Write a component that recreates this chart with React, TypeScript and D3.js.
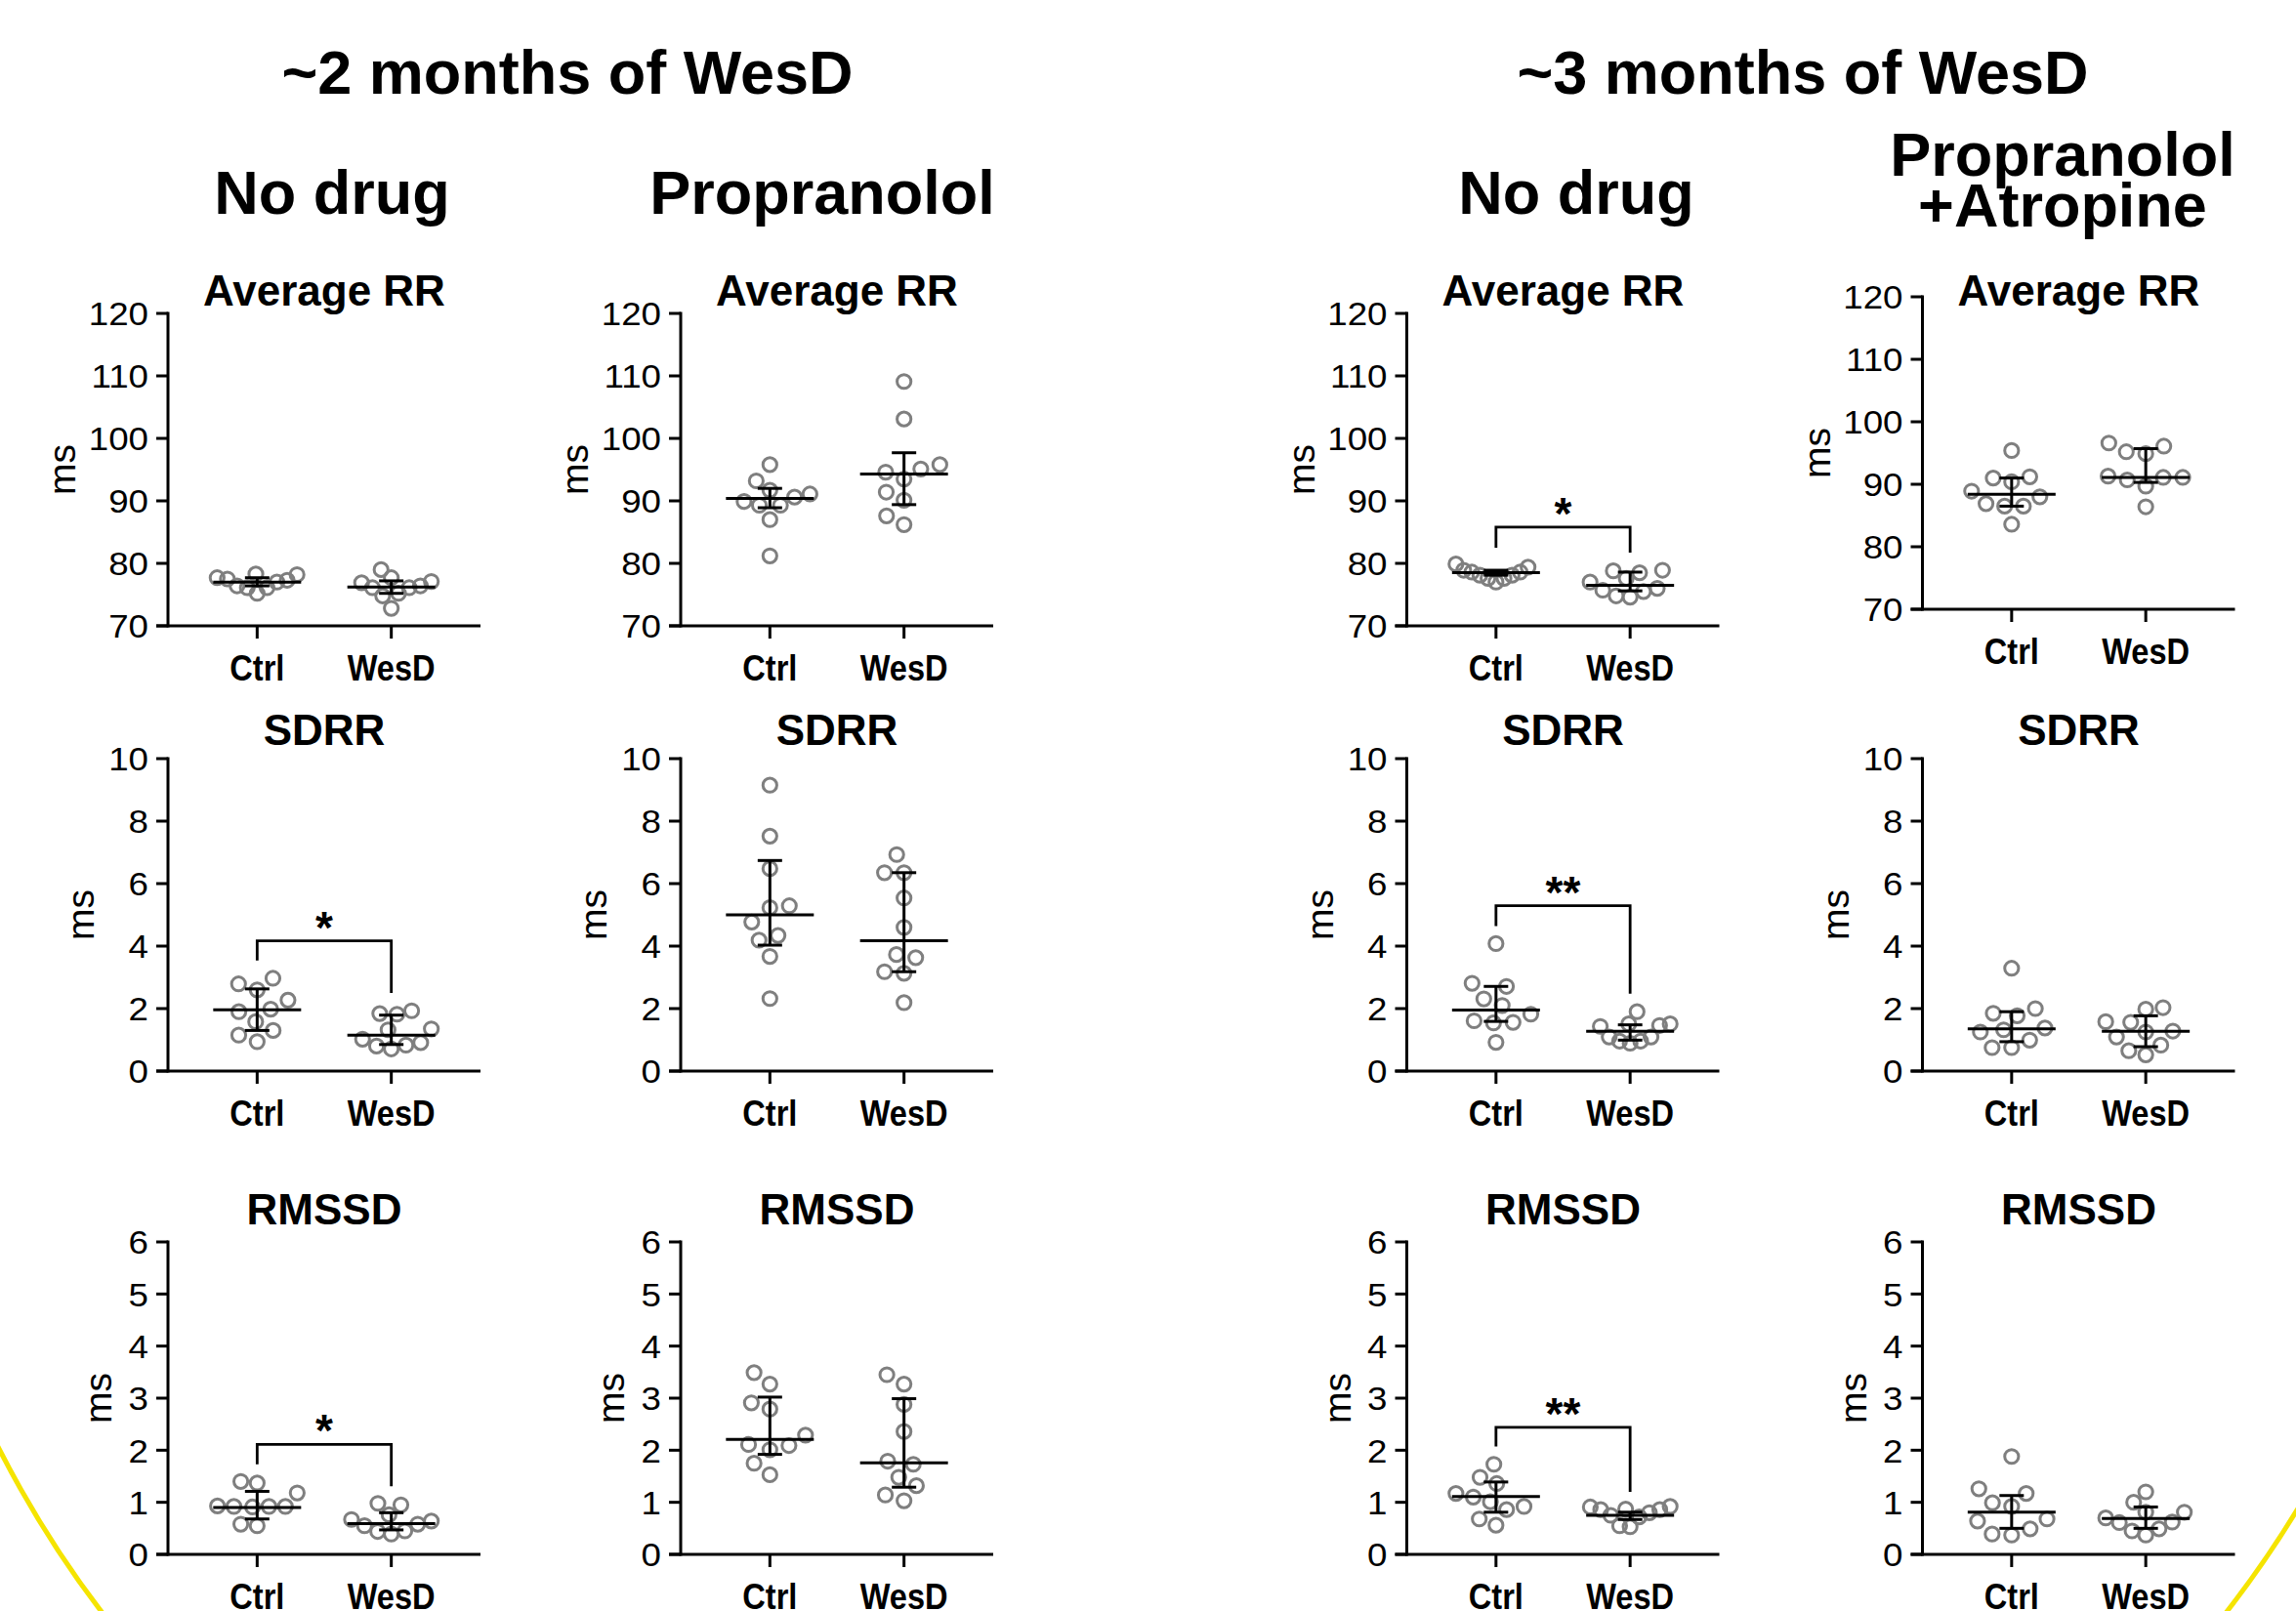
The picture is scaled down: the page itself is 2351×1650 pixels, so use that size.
import React, { useEffect } from 'react';
import * as d3 from 'd3';

// ---------- text ----------
const categories = ['Ctrl', 'WesD'];
const periodTitles = ['~2 months of WesD', '~3 months of WesD'];
const conditionTitles = [['No drug'], ['Propranolol'], ['No drug'], ['Propranolol', '+Atropine']];
const metricTitles = ['Average RR', 'SDRR', 'RMSSD'];
const yAxisLabel = 'ms';

// ---------- axes ----------
const rrTicks = [70, 80, 90, 100, 110, 120];
const sdrrTicks = [0, 2, 4, 6, 8, 10];
const rmssdTicks = [0, 1, 2, 3, 4, 5, 6];

// ---------- Average RR ----------
const rr2NoDrugCtrl = [77.5, 76.1, 78.2, 76.4, 77.0, 77.3, 77.7, 75.2, 78.3, 76.1];
const rr2NoDrugWesD = [77.1, 76.1, 76.9, 77.7, 74.8, 72.8, 79.0, 76.4, 75.2, 76.1];
const rr2NoDrugStats = [[77.0, 76.4, 77.7], [76.2, 75.2, 77.2]]; // median, q1, q3

const rr2PropCtrl = [89.9, 93.2, 91.1, 95.8, 89.3, 87.0, 81.2, 90.6, 91.7, 89.3];
const rr2PropWesD = [94.6, 109.1, 103.1, 95.8, 93.5, 90.1, 86.2, 87.6, 95.1, 91.4];
const rr2PropStats = [[90.4, 88.9, 92.0], [94.3, 89.4, 97.7]];

const rr3NoDrugCtrl = [78.1, 79.9, 78.1, 78.9, 79.4, 77.0, 78.6, 77.6, 78.6, 77.6];
const rr3NoDrugWesD = [78.8, 74.8, 78.5, 76.0, 77.6, 75.5, 78.9, 75.7, 77.0, 74.6];
const rr3NoDrugStats = [[78.5, 78.1, 78.9], [76.5, 75.6, 78.6]];
const rr3NoDrugSig = { label: '*', bar: 85.8, left: 82.5, right: 81.7 };

const rr3PropAtrCtrl = [91.2, 88.0, 88.9, 86.5, 95.4, 83.6, 90.4, 86.9, 91.0, 86.5];
const rr3PropAtrWesD = [95.2, 91.1, 94.9, 90.7, 86.4, 96.1, 89.7, 96.6, 91.1, 91.3];
const rr3PropAtrStats = [[88.4, 86.5, 91.0], [91.1, 90.3, 95.7]];

// ---------- SDRR ----------
const sd2NoDrugCtrl = [2.60, 1.90, 0.94, 2.79, 2.27, 1.30, 2.97, 1.98, 1.58, 1.15];
const sd2NoDrugWesD = [0.80, 1.93, 1.02, 1.82, 1.35, 0.83, 1.84, 0.91, 1.32, 0.71];
const sd2NoDrugStats = [[1.96, 1.30, 2.63], [1.15, 0.85, 1.79]];
const sd2NoDrugSig = { label: '*', bar: 4.17, left: 3.54, right: 2.5 };

const sd2PropCtrl = [9.15, 7.52, 6.48, 5.29, 5.23, 4.77, 4.19, 4.34, 3.67, 2.32];
const sd2PropWesD = [6.93, 6.35, 6.35, 5.54, 4.60, 3.73, 3.63, 3.18, 3.13, 2.19];
const sd2PropStats = [[5.0, 4.03, 6.74], [4.17, 3.18, 6.35]];

const sd3NoDrugCtrl = [4.08, 2.71, 2.81, 2.10, 2.31, 1.82, 1.56, 0.92, 1.61, 1.54];
const sd3NoDrugWesD = [0.96, 1.51, 1.09, 1.90, 1.43, 0.96, 1.51, 1.09, 1.46, 0.89];
const sd3NoDrugStats = [[1.95, 1.59, 2.71], [1.27, 0.99, 1.48]];
const sd3NoDrugSig = { label: '**', bar: 5.29, left: 4.64, right: 2.48 };

const sd3PropAtrCtrl = [1.77, 1.25, 0.75, 2.0, 1.38, 3.29, 1.32, 0.75, 1.85, 0.99];
const sd3PropAtrWesD = [1.98, 1.25, 0.52, 1.58, 0.83, 2.03, 1.56, 1.09, 0.65, 1.28];
const sd3PropAtrStats = [[1.35, 0.94, 1.90], [1.27, 0.78, 1.77]];

// ---------- RMSSD ----------
const rm2NoDrugCtrl = [1.40, 1.37, 1.18, 0.92, 0.91, 0.93, 0.92, 0.92, 0.55, 0.58];
const rm2NoDrugWesD = [0.95, 0.98, 0.76, 0.45, 0.64, 0.55, 0.67, 0.39, 0.58, 0.44];
const rm2NoDrugStats = [[0.90, 0.68, 1.21], [0.59, 0.47, 0.80]];
const rm2NoDrugSig = { label: '*', bar: 2.11, left: 1.73, right: 1.31 };

const rm2PropCtrl = [3.49, 3.27, 2.91, 2.79, 2.29, 2.11, 2.09, 2.01, 1.75, 1.53];
const rm2PropWesD = [3.45, 3.27, 2.88, 2.36, 1.73, 1.79, 1.48, 1.32, 1.14, 1.03];
const rm2PropStats = [[2.21, 1.92, 3.02], [1.76, 1.29, 2.99]];

const rm3NoDrugCtrl = [1.73, 1.48, 1.36, 1.17, 1.10, 1.01, 0.86, 0.92, 0.68, 0.56];
const rm3NoDrugWesD = [0.86, 0.91, 0.72, 0.86, 0.55, 0.87, 0.92, 0.53, 0.75, 0.80];
const rm3NoDrugStats = [[1.11, 0.81, 1.39], [0.75, 0.67, 0.81]];
const rm3NoDrugSig = { label: '**', bar: 2.44, left: 2.07, right: 1.20 };

const rm3PropAtrCtrl = [1.88, 1.26, 1.17, 0.99, 0.92, 0.68, 0.64, 0.49, 0.37, 0.39];
const rm3PropAtrWesD = [1.20, 1.00, 0.81, 0.81, 0.70, 0.45, 0.62, 0.61, 0.37, 0.49];
const rm3PropAtrStats = [[0.81, 0.50, 1.13], [0.69, 0.50, 0.91]];

// ---------- layout (not data) ----------
const W = 2351;
const H = 1650;
const FONT = '"Liberation Sans", Arial, Helvetica, sans-serif';
const colX = [172, 697, 1440.5, 1968.5];
const rowTop = [321, 777, 1272];
const rowTicks = [rrTicks, sdrrTicks, rmssdTicks];
const rowTitleY = [313, 763, 1254];
const rowMsOffset = [-95, -76, -58];
const PW = 320;
const PH = 320;
const POINT_GRAY = '#7f7f7f';

type Sig = { label: string; bar: number; left: number; right: number } | null;
type PanelDef = {
  row: number;
  col: number;
  ctrl: number[];
  wesd: number[];
  stats: number[][];
  sig: Sig;
};

const panels: PanelDef[] = [
  { row: 0, col: 0, ctrl: rr2NoDrugCtrl, wesd: rr2NoDrugWesD, stats: rr2NoDrugStats, sig: null },
  { row: 0, col: 1, ctrl: rr2PropCtrl, wesd: rr2PropWesD, stats: rr2PropStats, sig: null },
  { row: 0, col: 2, ctrl: rr3NoDrugCtrl, wesd: rr3NoDrugWesD, stats: rr3NoDrugStats, sig: rr3NoDrugSig },
  { row: 0, col: 3, ctrl: rr3PropAtrCtrl, wesd: rr3PropAtrWesD, stats: rr3PropAtrStats, sig: null },
  { row: 1, col: 0, ctrl: sd2NoDrugCtrl, wesd: sd2NoDrugWesD, stats: sd2NoDrugStats, sig: sd2NoDrugSig },
  { row: 1, col: 1, ctrl: sd2PropCtrl, wesd: sd2PropWesD, stats: sd2PropStats, sig: null },
  { row: 1, col: 2, ctrl: sd3NoDrugCtrl, wesd: sd3NoDrugWesD, stats: sd3NoDrugStats, sig: sd3NoDrugSig },
  { row: 1, col: 3, ctrl: sd3PropAtrCtrl, wesd: sd3PropAtrWesD, stats: sd3PropAtrStats, sig: null },
  { row: 2, col: 0, ctrl: rm2NoDrugCtrl, wesd: rm2NoDrugWesD, stats: rm2NoDrugStats, sig: rm2NoDrugSig },
  { row: 2, col: 1, ctrl: rm2PropCtrl, wesd: rm2PropWesD, stats: rm2PropStats, sig: null },
  { row: 2, col: 2, ctrl: rm3NoDrugCtrl, wesd: rm3NoDrugWesD, stats: rm3NoDrugStats, sig: rm3NoDrugSig },
  { row: 2, col: 3, ctrl: rm3PropAtrCtrl, wesd: rm3PropAtrWesD, stats: rm3PropAtrStats, sig: null },
];

// beeswarm: horizontal offsets so circles of spacing d do not overlap,
// then squeezed to a maximum half-width (like a scatter-dot plot)
function swarm(ys: number[], d: number, maxHalf: number): number[] {
  const order = ys.map((_, i) => i).sort((a, b) => ys[b] - ys[a]);
  const placed: { x: number; y: number }[] = [];
  const xs = new Array(ys.length).fill(0);
  for (const i of order) {
    const py = ys[i];
    const cands = [0];
    for (const p of placed) {
      const dy = Math.abs(p.y - py);
      if (dy < d) {
        const dx = Math.sqrt(d * d - dy * dy);
        cands.push(p.x + dx + 0.01, p.x - dx - 0.01);
      }
    }
    cands.sort((a, b) => Math.abs(a) - Math.abs(b) || a - b);
    let chosen = 0;
    for (const c of cands) {
      if (placed.every((p) => (p.x - c) ** 2 + (p.y - py) ** 2 >= d * d - 0.5)) {
        chosen = c;
        break;
      }
    }
    xs[i] = chosen;
    placed.push({ x: chosen, y: py });
  }
  const m = d3.max(xs, (v) => Math.abs(v)) || 0;
  const k = m > maxHalf ? maxHalf / m : 1;
  return xs.map((v) => v * k);
}

function Panel({ p }: { p: PanelDef }) {
  const x0 = colX[p.col];
  const top = p.row === 0 && p.col === 3 ? 304 : rowTop[p.row];
  const ticks = rowTicks[p.row];
  const y = d3.scaleLinear().domain([ticks[0], ticks[ticks.length - 1]]).range([top + PH, top]);
  const x = d3.scalePoint<string>().domain(categories).range([x0, x0 + PW]).padding(0.665);
  const bottom = top + PH;
  const groups = [p.ctrl, p.wesd];
  const cx = x0 + PW / 2;
  const msX = x0 + rowMsOffset[p.row];
  const msY = top + PH / 2;
  return (
    <g>
      <text x={cx} y={rowTitleY[p.row]} textAnchor="middle" fontFamily={FONT} fontWeight="bold" fontSize={44}>
        {metricTitles[p.row]}
      </text>
      <text
        transform={`translate(${msX},${msY}) rotate(-90)`}
        textAnchor="middle"
        fontFamily={FONT}
        fontSize={39}
      >
        {yAxisLabel}
      </text>
      {/* points */}
      {groups.map((vals, gi) => {
        const ys = vals.map((v) => y(v));
        const offs = swarm(ys, 20, 41);
        const gx = x(categories[gi]) as number;
        return vals.map((v, i) => (
          <circle
            key={`${gi}-${i}`}
            cx={gx + offs[i]}
            cy={ys[i]}
            r={7.1}
            fill="none"
            stroke={POINT_GRAY}
            strokeWidth={3}
          />
        ));
      })}
      {/* median + IQR */}
      {p.stats.map((s, gi) => {
        const gx = x(categories[gi]) as number;
        return (
          <g key={`s${gi}`} stroke="#000" strokeWidth={3}>
            <line x1={gx - 45} x2={gx + 45} y1={y(s[0])} y2={y(s[0])} />
            <line x1={gx} x2={gx} y1={y(s[1])} y2={y(s[2])} />
            <line x1={gx - 12.5} x2={gx + 12.5} y1={y(s[1])} y2={y(s[1])} />
            <line x1={gx - 12.5} x2={gx + 12.5} y1={y(s[2])} y2={y(s[2])} />
          </g>
        );
      })}
      {/* significance */}
      {p.sig && (
        <g>
          <path
            d={`M${x('Ctrl')},${y(p.sig.left)}V${y(p.sig.bar)}H${x('WesD')}V${y(p.sig.right)}`}
            fill="none"
            stroke="#000"
            strokeWidth={2.8}
          />
          <text
            x={((x('Ctrl') as number) + (x('WesD') as number)) / 2}
            y={y(p.sig.bar) + 2}
            textAnchor="middle"
            fontFamily={FONT}
            fontWeight="bold"
            fontSize={46}
          >
            {p.sig.label}
          </text>
        </g>
      )}
      {/* y axis */}
      <line x1={x0} x2={x0} y1={top - 1.5} y2={bottom + 1.5} stroke="#000" strokeWidth={3} />
      {ticks.map((t) => (
        <g key={t}>
          <line x1={x0 - 12} x2={x0} y1={y(t)} y2={y(t)} stroke="#000" strokeWidth={3} />
          <text
            transform={`translate(${x0 - 20},${y(t)}) scale(1.08,1)`}
            dy="0.36em"
            textAnchor="end"
            fontFamily={FONT}
            fontSize={34}
          >
            {t}
          </text>
        </g>
      ))}
      {/* x axis */}
      <line x1={x0 - 12} x2={x0 + PW} y1={bottom} y2={bottom} stroke="#000" strokeWidth={3} />
      {categories.map((c) => (
        <g key={c}>
          <line x1={x(c)} x2={x(c)} y1={bottom} y2={bottom + 13} stroke="#000" strokeWidth={3} />
          <text
            transform={`translate(${x(c)},${bottom + 56}) scale(0.88,1)`}
            textAnchor="middle"
            fontFamily={FONT}
            fontWeight="bold"
            fontSize={37}
          >
            {c}
          </text>
        </g>
      ))}
    </g>
  );
}

export default function App() {
  useEffect(() => {
    document.body.style.margin = '0';
  }, []);
  const condCenters = [340, 842, 1614, 2112];
  return (
    <svg
      width={W}
      height={H}
      viewBox={`0 0 ${W} ${H}`}
      style={{ display: 'block', position: 'absolute', left: 0, top: 0, background: '#fff' }}
    >
      <rect x={0} y={0} width={W} height={H} fill="#fff" />
      {/* decorative yellow arcs */}
      <path d="M-4,1478 Q45,1575 108,1656" fill="none" stroke="#f5e400" strokeWidth={5} />
      <path d="M2356,1540 Q2320,1600 2276,1656" fill="none" stroke="#f5e400" strokeWidth={5} />
      {periodTitles.map((t, i) => (
        <text key={t} x={i === 0 ? 581 : 1846} y={96} textAnchor="middle" fontFamily={FONT} fontWeight="bold" fontSize={63}>
          {t}
        </text>
      ))}
      {conditionTitles.map((lines, i) =>
        lines.map((l, li) => (
          <text
            key={`${i}-${li}`}
            x={condCenters[i]}
            y={lines.length === 1 ? 219 : 180 + li * 52}
            textAnchor="middle"
            fontFamily={FONT}
            fontWeight="bold"
            fontSize={63}
          >
            {l}
          </text>
        ))
      )}
      {panels.map((p, i) => (
        <Panel key={i} p={p} />
      ))}
    </svg>
  );
}
